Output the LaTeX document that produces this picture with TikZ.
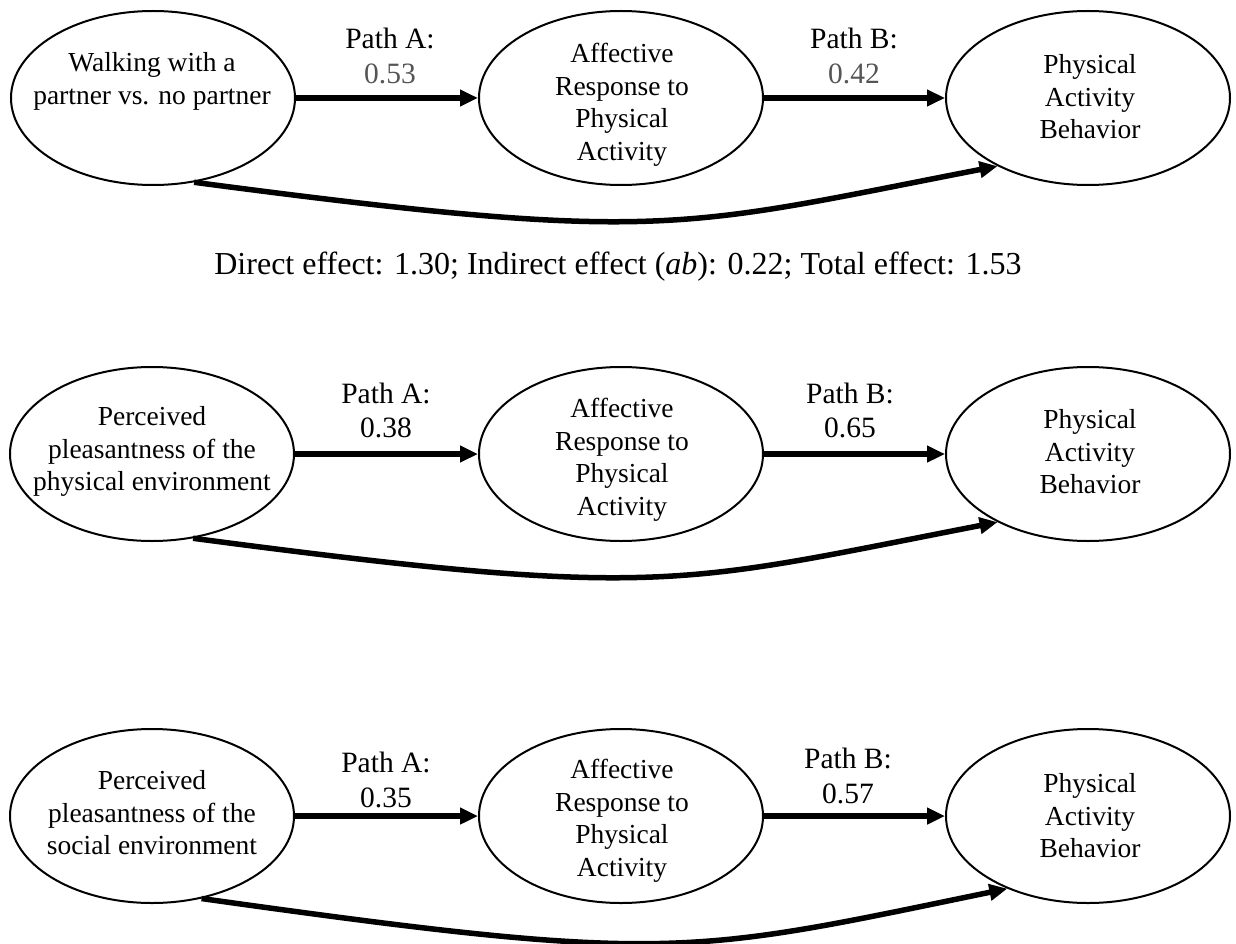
\documentclass[tikz,border=0pt]{standalone}
\usepackage{fontspec}
\setmainfont{Liberation Serif}
\usetikzlibrary{shapes.geometric,arrows.meta,calc}
\definecolor{numgray}{HTML}{555555}
\begin{document}
\begin{tikzpicture}[x=1pt,y=-1pt,
  ell/.style={draw, line width=2pt, ellipse, minimum width=284pt, minimum height=174pt, inner sep=0pt},
  txt/.style={align=center, font=\fontsize{27.5}{32.5}\selectfont, inner sep=0pt},
  lbl/.style={font=\fontsize{29.5}{34}\selectfont, inner sep=0pt},
  efftxt/.style={font=\fontsize{32}{36}\selectfont, inner sep=0pt},
  conn/.style={line width=5.5pt, -{Triangle[length=18pt,width=16pt]}},
]
\fill[white] (0,0) rectangle (1236,944);
\useasboundingbox (0,0) rectangle (1236,944);

% ---------- Row 1 ----------
\node[ell] (a1) at (153,98) {};
\node[ell] (b1) at (621,98) {};
\node[ell] (c1) at (1088,98) {};
\node[txt] (a1t) at (152,81.5) {Walking with a\\partner vs. no partner};
\node[txt] (b1t) at (622,105) {Affective\\Response to\\Physical\\Activity};
\node[txt] (c1t) at (1090,97) {Physical\\Activity\\Behavior};
\draw[conn] (a1.east) -- (b1.west);
\draw[conn] (b1.east) -- (c1.west);
\draw[conn] (a1.-64) .. controls ($(a1.-64)+(470,62)$) and ($(c1.217)+(-320,62)$) .. (c1.217);
\node[lbl] (pa1) at (390,38) {Path A:};
\node[lbl, text=numgray] (va1) at (390,74) {0.53};
\node[lbl] (pb1) at (854,38) {Path B:};
\node[lbl, text=numgray] (vb1) at (854,74) {0.42};
\node[efftxt] (eff) at (618,267) {Direct effect: 1.30; Indirect effect (\textit{ab}): 0.22; Total effect: 1.53};

% ---------- Row 2 ----------
\node[ell] (a2) at (152,454) {};
\node[ell] (b2) at (621,454) {};
\node[ell] (c2) at (1088,454) {};
\node[txt] (a2t) at (152,451.5) {Perceived\\pleasantness of the\\physical environment};
\node[txt] (b2t) at (622,460) {Affective\\Response to\\Physical\\Activity};
\node[txt] (c2t) at (1090,452) {Physical\\Activity\\Behavior};
\draw[conn] (a2.east) -- (b2.west);
\draw[conn] (b2.east) -- (c2.west);
\draw[conn] (a2.-64) .. controls ($(a2.-64)+(470,62)$) and ($(c2.217)+(-320,62)$) .. (c2.217);
\node[lbl] (pa2) at (386,393) {Path A:};
\node[lbl] (va2) at (386,428) {0.38};
\node[lbl] (pb2) at (850,393) {Path B:};
\node[lbl] (vb2) at (850,428) {0.65};

% ---------- Row 3 ----------
\node[ell] (a3) at (152,816) {};
\node[ell] (b3) at (621,816) {};
\node[ell] (c3) at (1088,816) {};
\node[txt] (a3t) at (152,813) {Perceived\\pleasantness of the\\social environment};
\node[txt] (b3t) at (622,821) {Affective\\Response to\\Physical\\Activity};
\node[txt] (c3t) at (1090,816) {Physical\\Activity\\Behavior};
\draw[conn] (a3.east) -- (b3.west);
\draw[conn] (b3.east) -- (c3.west);
\draw[conn] (a3.-59) .. controls ($(a3.-59)+(470,66)$) and ($(c3.222)+(-320,66)$) .. (c3.222);
\node[lbl] (pa3) at (386,762) {Path A:};
\node[lbl] (va3) at (386,798) {0.35};
\node[lbl] (pb3) at (848,758) {Path B:};
\node[lbl] (vb3) at (848,794) {0.57};
\end{tikzpicture}
\end{document}
